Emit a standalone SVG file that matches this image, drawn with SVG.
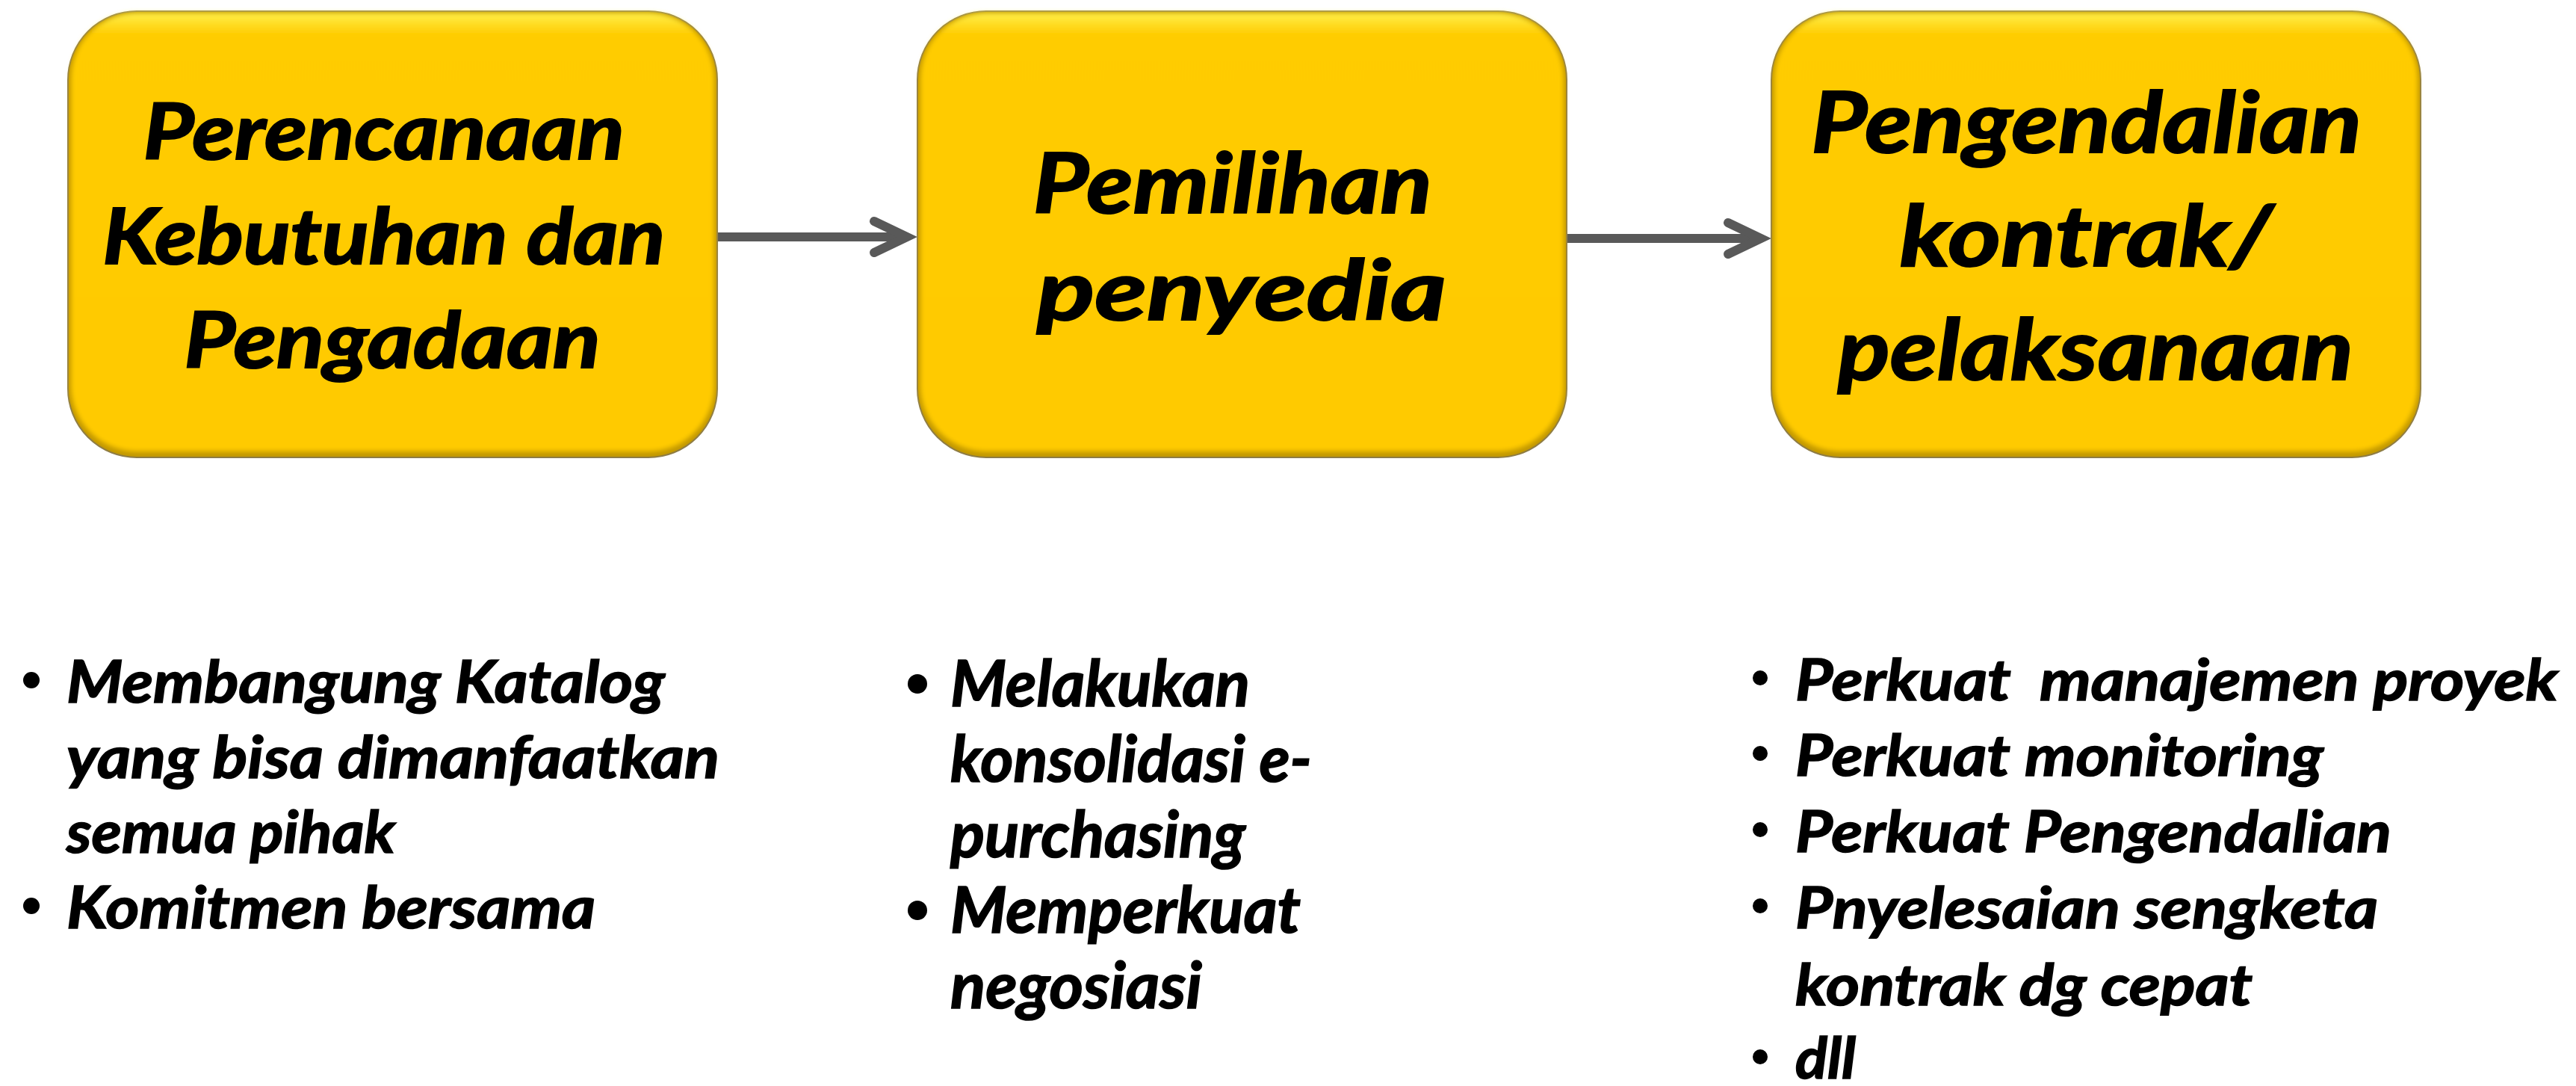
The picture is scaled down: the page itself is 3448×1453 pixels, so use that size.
<svg xmlns="http://www.w3.org/2000/svg" width="3448" height="1453" viewBox="0 0 3448 1453">
<style>
  .box-outer { fill: #C29800; stroke: #8E7C45; stroke-width: 2; }
  .box-inner { fill: url(#face); filter: url(#soft); }
  .title { font-family: "Lato", "Open Sans", "Liberation Sans", sans-serif; font-weight: bold; font-style: italic; fill: #000; stroke: #000; stroke-width: 2.2; text-anchor: middle; }
  .bul { font-family: "Lato", "Open Sans", "Liberation Sans", sans-serif; font-weight: bold; font-style: italic; fill: #000; stroke: #000; stroke-width: 1.6; white-space: pre; }
  .conn { stroke: #595959; stroke-width: 12; fill: none; }
</style>
<defs>
  <linearGradient id="face" x1="0" y1="0" x2="0" y2="1">
    <stop offset="0" stop-color="#FFEF4A"/>
    <stop offset="0.05" stop-color="#FFCC00"/>
    <stop offset="1" stop-color="#FFCA00"/>
  </linearGradient>
  <filter id="soft" x="-5%" y="-5%" width="110%" height="110%">
    <feGaussianBlur stdDeviation="3"/>
  </filter>
  <marker id="chev" markerUnits="userSpaceOnUse" viewBox="-60 -40 80 80" markerWidth="80" markerHeight="80" refX="0" refY="0" orient="auto">
    <path d="M-44,-21 L0,0 L-44,21" fill="none" stroke="#595959" stroke-width="12" stroke-linecap="round" stroke-linejoin="miter"/>
  </marker>
</defs>
<rect width="3448" height="1453" fill="#FFFFFF"/>

<g id="connectors">
  <line class="conn" x1="960" y1="317" x2="1214" y2="317" marker-end="url(#chev)"/>
  <line class="conn" x1="2097" y1="319" x2="2357" y2="319" marker-end="url(#chev)"/>
</g>

<g id="node-perencanaan">
  <rect class="box-outer" x="91" y="15" width="869" height="597" rx="92"/>
  <rect class="box-inner" x="95" y="17" width="861" height="587" rx="88"/>
  <text class="title" font-size="103">
    <tspan x="525" y="213" textLength="644" lengthAdjust="spacingAndGlyphs">Perencanaan</tspan>
    <tspan x="525" y="353" textLength="753" lengthAdjust="spacingAndGlyphs">Kebutuhan dan</tspan>
    <tspan x="525" y="492" textLength="557" lengthAdjust="spacingAndGlyphs">Pengadaan</tspan>
  </text>
</g>

<g id="node-pemilihan">
  <rect class="box-outer" x="1228" y="15" width="869" height="597" rx="92"/>
  <rect class="box-inner" x="1232" y="17" width="861" height="587" rx="88"/>
  <text class="title" font-size="112">
    <tspan x="1662" y="285" textLength="534" lengthAdjust="spacingAndGlyphs">Pemilihan</tspan>
    <tspan x="1662" y="428" textLength="548" lengthAdjust="spacingAndGlyphs">penyedia</tspan>
  </text>
</g>

<g id="node-pengendalian">
  <rect class="box-outer" x="2371" y="15" width="869" height="597" rx="92"/>
  <rect class="box-inner" x="2375" y="17" width="861" height="587" rx="88"/>
  <text class="title" font-size="113">
    <tspan x="2805" y="204" textLength="737" lengthAdjust="spacingAndGlyphs">Pengendalian</tspan>
    <tspan x="2805" y="356" textLength="500" lengthAdjust="spacingAndGlyphs">kontrak/</tspan>
    <tspan x="2805" y="508" textLength="690" lengthAdjust="spacingAndGlyphs">pelaksanaan</tspan>
  </text>
</g>

<g id="list-perencanaan">
  <circle cx="42" cy="910" r="11"/>
  <circle cx="42" cy="1212" r="11"/>
  <text class="bul" font-size="79">
    <tspan x="89" y="940" textLength="801" lengthAdjust="spacingAndGlyphs">Membangung Katalog</tspan>
    <tspan x="89" y="1041" textLength="874" lengthAdjust="spacingAndGlyphs">yang bisa dimanfaatkan</tspan>
    <tspan x="89" y="1141" textLength="440" lengthAdjust="spacingAndGlyphs">semua pihak</tspan>
    <tspan x="89" y="1242" textLength="708" lengthAdjust="spacingAndGlyphs">Komitmen bersama</tspan>
  </text>
</g>

<g id="list-pemilihan">
  <circle cx="1228" cy="915" r="13"/>
  <circle cx="1228" cy="1218" r="13"/>
  <text class="bul" font-size="86">
    <tspan x="1272" y="945" textLength="401" lengthAdjust="spacingAndGlyphs">Melakukan</tspan>
    <tspan x="1272" y="1046" textLength="484" lengthAdjust="spacingAndGlyphs">konsolidasi e-</tspan>
    <tspan x="1272" y="1147" textLength="395" lengthAdjust="spacingAndGlyphs">purchasing</tspan>
    <tspan x="1272" y="1248" textLength="469" lengthAdjust="spacingAndGlyphs">Memperkuat</tspan>
    <tspan x="1272" y="1349" textLength="337" lengthAdjust="spacingAndGlyphs">negosiasi</tspan>
  </text>
</g>

<g id="list-pengendalian">
  <circle cx="2356" cy="907" r="10"/>
  <circle cx="2356" cy="1008" r="10"/>
  <circle cx="2356" cy="1110" r="10"/>
  <circle cx="2356" cy="1212" r="10"/>
  <circle cx="2356" cy="1414" r="10"/>
  <text class="bul" font-size="77">
    <tspan x="2403" y="937" textLength="1021" lengthAdjust="spacingAndGlyphs">Perkuat  manajemen proyek</tspan>
    <tspan x="2403" y="1038" textLength="707" lengthAdjust="spacingAndGlyphs">Perkuat monitoring</tspan>
    <tspan x="2403" y="1140" textLength="798" lengthAdjust="spacingAndGlyphs">Perkuat Pengendalian</tspan>
    <tspan x="2403" y="1242" textLength="780" lengthAdjust="spacingAndGlyphs">Pnyelesaian sengketa</tspan>
    <tspan x="2403" y="1345" textLength="612" lengthAdjust="spacingAndGlyphs">kontrak dg cepat</tspan>
    <tspan x="2403" y="1443" textLength="81" lengthAdjust="spacingAndGlyphs">dll</tspan>
  </text>
</g>
</svg>
